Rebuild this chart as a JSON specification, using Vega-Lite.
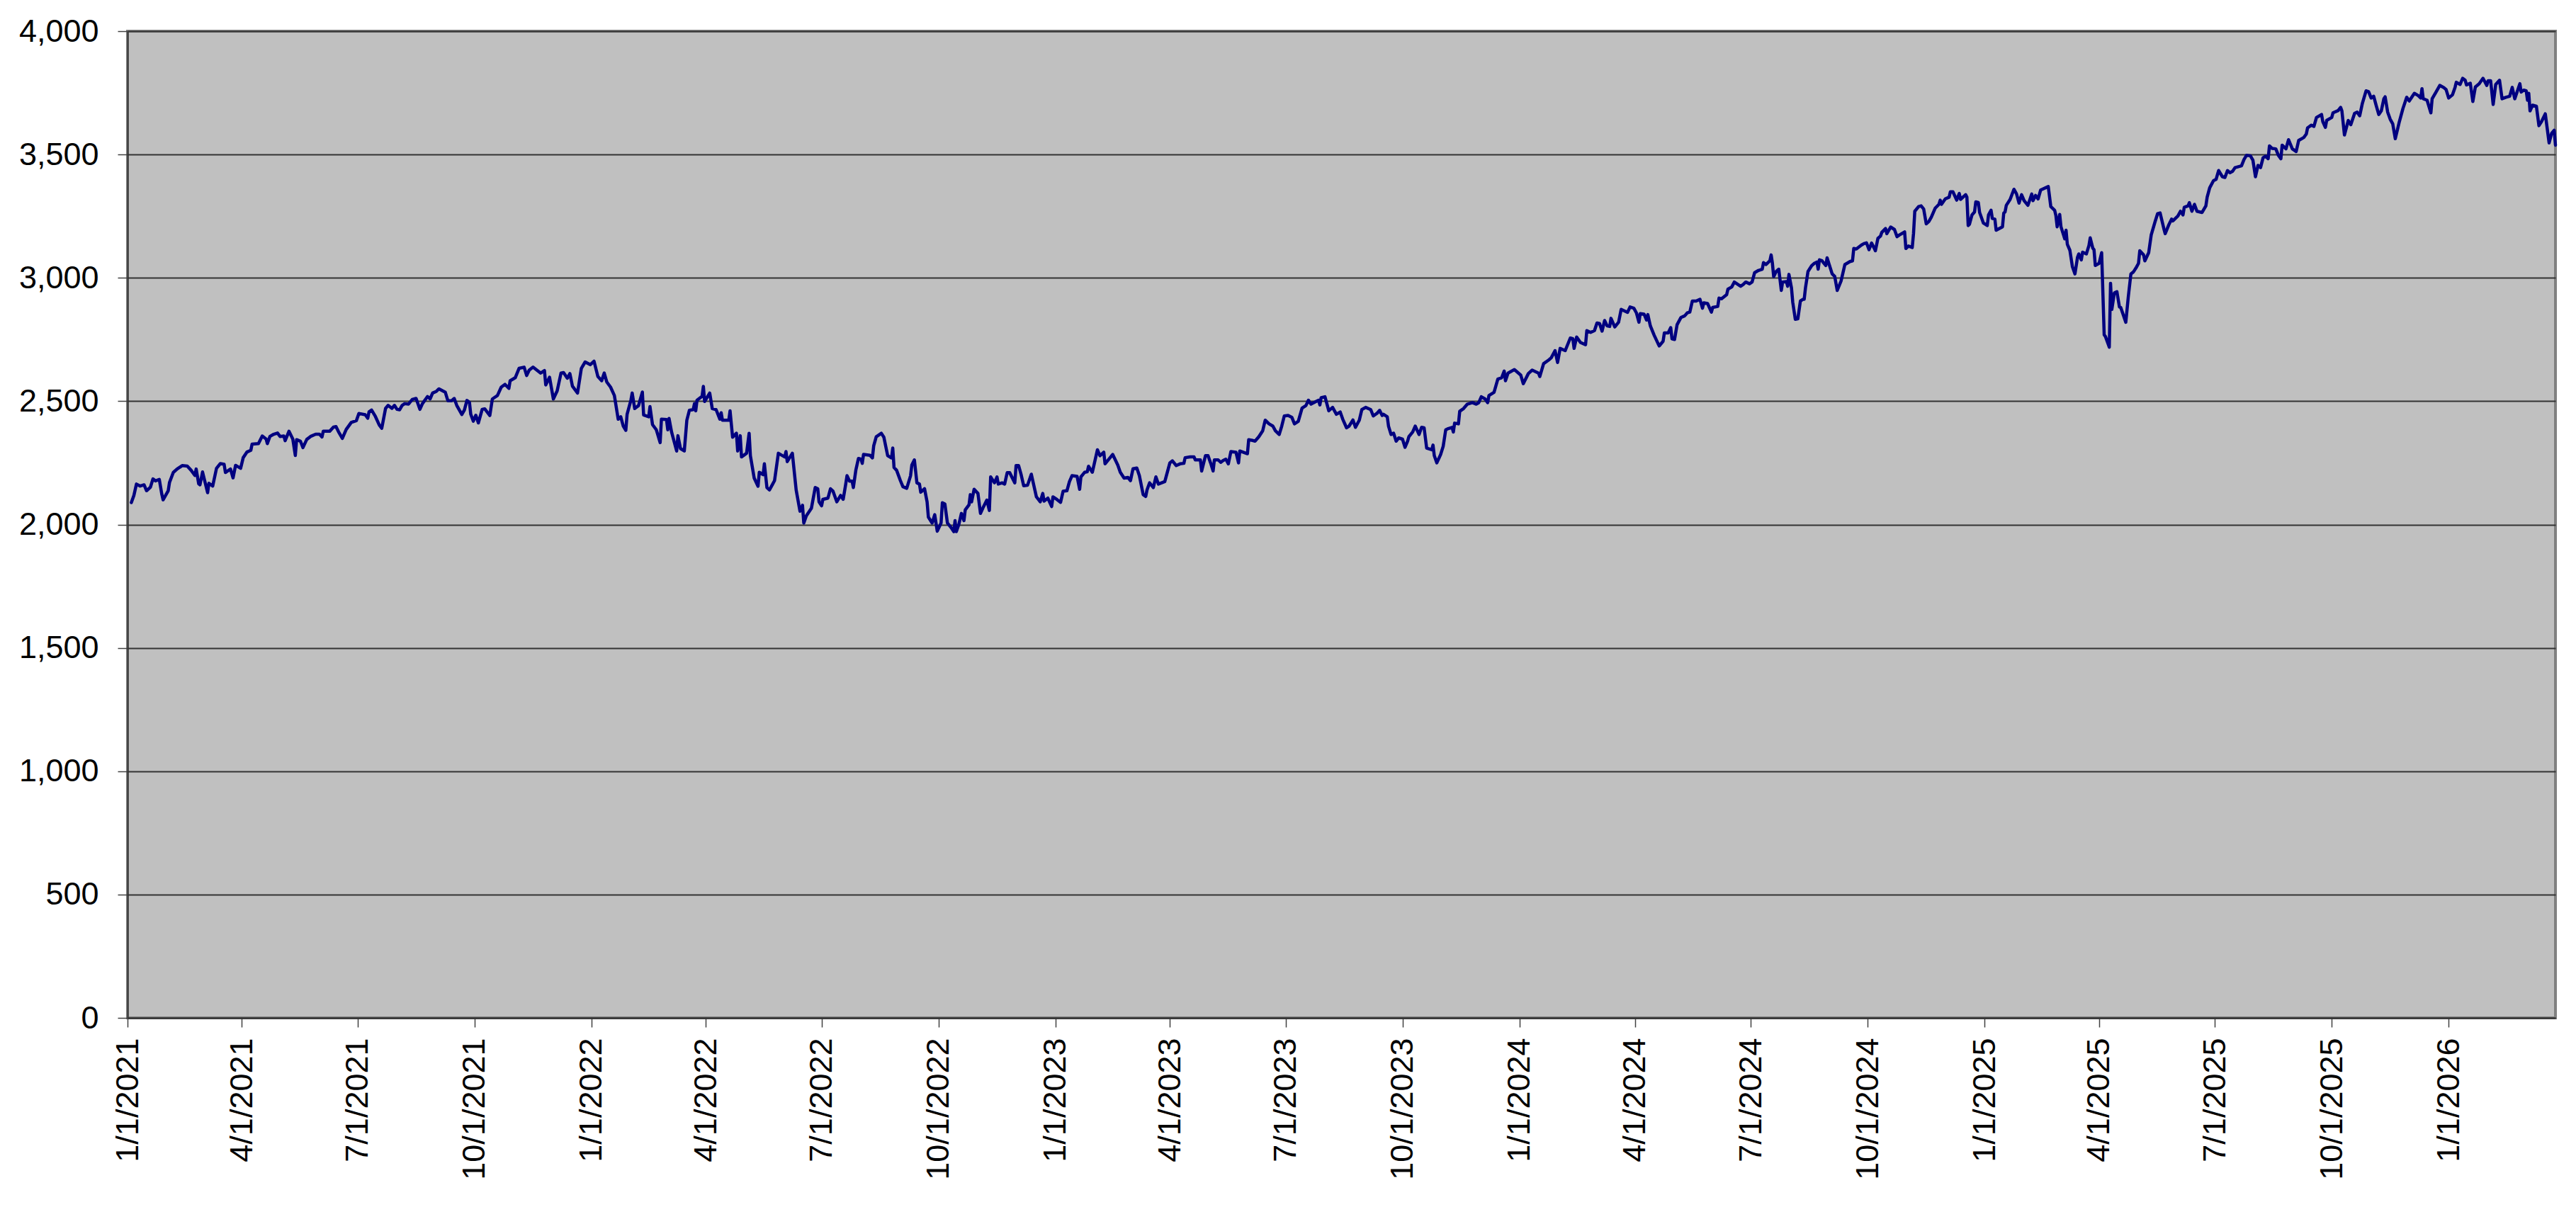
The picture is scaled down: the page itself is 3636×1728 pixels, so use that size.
{
"$schema": "https://vega.github.io/schema/vega-lite/v6.json",
"width": 3427, "height": 1393,
"autosize": {"type": "none"},
"padding": {"left": 180, "top": 44, "right": 29, "bottom": 291},
"background": "white",
"config": {
 "view": {"fill": "#C0C0C0", "stroke": "#808080", "strokeWidth": 4},
 "font": "Liberation Sans"
},
"data": {"values": [
{"date":"2021-01-04","value":2089},{"date":"2021-01-06","value":2118},{"date":"2021-01-08","value":2164},{"date":"2021-01-11","value":2156},{"date":"2021-01-14","value":2161},{"date":"2021-01-16","value":2137},{"date":"2021-01-19","value":2151},{"date":"2021-01-21","value":2185},{"date":"2021-01-23","value":2177},{"date":"2021-01-26","value":2183},{"date":"2021-01-28","value":2122},{"date":"2021-01-29","value":2100},{"date":"2021-02-02","value":2137},{"date":"2021-02-03","value":2170},{"date":"2021-02-06","value":2211},{"date":"2021-02-09","value":2225},{"date":"2021-02-13","value":2239},{"date":"2021-02-17","value":2237},{"date":"2021-02-20","value":2220},{"date":"2021-02-23","value":2199},{"date":"2021-02-24","value":2225},{"date":"2021-02-26","value":2165},{"date":"2021-02-27","value":2161},{"date":"2021-03-01","value":2213},{"date":"2021-03-05","value":2129},{"date":"2021-03-06","value":2167},{"date":"2021-03-09","value":2156},{"date":"2021-03-12","value":2228},{"date":"2021-03-15","value":2247},{"date":"2021-03-18","value":2244},{"date":"2021-03-19","value":2211},{"date":"2021-03-23","value":2225},{"date":"2021-03-25","value":2189},{"date":"2021-03-27","value":2240},{"date":"2021-03-31","value":2228},{"date":"2021-04-02","value":2271},{"date":"2021-04-05","value":2294},{"date":"2021-04-08","value":2301},{"date":"2021-04-09","value":2326},{"date":"2021-04-14","value":2328},{"date":"2021-04-17","value":2359},{"date":"2021-04-20","value":2347},{"date":"2021-04-21","value":2328},{"date":"2021-04-23","value":2357},{"date":"2021-04-26","value":2366},{"date":"2021-04-29","value":2371},{"date":"2021-05-01","value":2357},{"date":"2021-05-04","value":2359},{"date":"2021-05-05","value":2340},{"date":"2021-05-08","value":2378},{"date":"2021-05-11","value":2347},{"date":"2021-05-13","value":2280},{"date":"2021-05-14","value":2344},{"date":"2021-05-17","value":2338},{"date":"2021-05-19","value":2312},{"date":"2021-05-22","value":2345},{"date":"2021-05-25","value":2357},{"date":"2021-05-29","value":2366},{"date":"2021-06-01","value":2366},{"date":"2021-06-03","value":2355},{"date":"2021-06-04","value":2378},{"date":"2021-06-09","value":2378},{"date":"2021-06-12","value":2395},{"date":"2021-06-14","value":2397},{"date":"2021-06-16","value":2376},{"date":"2021-06-19","value":2349},{"date":"2021-06-22","value":2385},{"date":"2021-06-26","value":2414},{"date":"2021-06-30","value":2421},{"date":"2021-07-02","value":2450},{"date":"2021-07-07","value":2445},{"date":"2021-07-09","value":2431},{"date":"2021-07-10","value":2457},{"date":"2021-07-12","value":2464},{"date":"2021-07-15","value":2438},{"date":"2021-07-18","value":2404},{"date":"2021-07-20","value":2390},{"date":"2021-07-23","value":2471},{"date":"2021-07-25","value":2483},{"date":"2021-07-28","value":2471},{"date":"2021-07-30","value":2483},{"date":"2021-08-01","value":2467},{"date":"2021-08-03","value":2465},{"date":"2021-08-05","value":2483},{"date":"2021-08-07","value":2490},{"date":"2021-08-10","value":2488},{"date":"2021-08-13","value":2507},{"date":"2021-08-16","value":2511},{"date":"2021-08-19","value":2467},{"date":"2021-08-21","value":2490},{"date":"2021-08-25","value":2519},{"date":"2021-08-27","value":2509},{"date":"2021-08-29","value":2533},{"date":"2021-09-01","value":2540},{"date":"2021-09-03","value":2550},{"date":"2021-09-08","value":2536},{"date":"2021-09-10","value":2502},{"date":"2021-09-13","value":2502},{"date":"2021-09-15","value":2511},{"date":"2021-09-17","value":2483},{"date":"2021-09-21","value":2446},{"date":"2021-09-23","value":2464},{"date":"2021-09-25","value":2503},{"date":"2021-09-27","value":2495},{"date":"2021-09-28","value":2447},{"date":"2021-09-30","value":2419},{"date":"2021-10-02","value":2443},{"date":"2021-10-04","value":2412},{"date":"2021-10-07","value":2467},
{"date":"2021-10-09","value":2469},{"date":"2021-10-13","value":2442},{"date":"2021-10-15","value":2509},{"date":"2021-10-19","value":2523},{"date":"2021-10-22","value":2557},{"date":"2021-10-25","value":2568},{"date":"2021-10-28","value":2552},{"date":"2021-10-29","value":2583},{"date":"2021-11-02","value":2595},{"date":"2021-11-05","value":2633},{"date":"2021-11-09","value":2638},{"date":"2021-11-11","value":2604},{"date":"2021-11-13","value":2626},{"date":"2021-11-16","value":2638},{"date":"2021-11-19","value":2626},{"date":"2021-11-22","value":2614},{"date":"2021-11-25","value":2624},{"date":"2021-11-26","value":2566},{"date":"2021-11-29","value":2597},{"date":"2021-12-02","value":2509},{"date":"2021-12-05","value":2542},{"date":"2021-12-08","value":2614},{"date":"2021-12-10","value":2616},{"date":"2021-12-13","value":2593},{"date":"2021-12-15","value":2612},{"date":"2021-12-17","value":2561},{"date":"2021-12-21","value":2533},{"date":"2021-12-24","value":2633},{"date":"2021-12-27","value":2659},{"date":"2021-12-31","value":2648},{"date":"2022-01-03","value":2662},{"date":"2022-01-06","value":2600},{"date":"2022-01-09","value":2583},{"date":"2022-01-11","value":2614},{"date":"2022-01-13","value":2578},{"date":"2022-01-16","value":2557},{"date":"2022-01-19","value":2523},{"date":"2022-01-22","value":2427},{"date":"2022-01-24","value":2437},{"date":"2022-01-26","value":2399},{"date":"2022-01-28","value":2382},{"date":"2022-01-29","value":2447},{"date":"2022-02-01","value":2504},{"date":"2022-02-02","value":2533},{"date":"2022-02-04","value":2470},{"date":"2022-02-07","value":2482},{"date":"2022-02-10","value":2537},{"date":"2022-02-11","value":2444},{"date":"2022-02-15","value":2437},{"date":"2022-02-16","value":2478},{"date":"2022-02-18","value":2405},{"date":"2022-02-21","value":2384},{"date":"2022-02-24","value":2332},{"date":"2022-02-25","value":2427},{"date":"2022-03-01","value":2426},{"date":"2022-03-02","value":2384},{"date":"2022-03-03","value":2430},{"date":"2022-03-05","value":2375},{"date":"2022-03-09","value":2298},{"date":"2022-03-10","value":2360},{"date":"2022-03-12","value":2308},{"date":"2022-03-15","value":2298},{"date":"2022-03-17","value":2423},{"date":"2022-03-19","value":2463},{"date":"2022-03-22","value":2466},{"date":"2022-03-23","value":2490},{"date":"2022-03-24","value":2461},{"date":"2022-03-25","value":2504},{"date":"2022-03-29","value":2520},{"date":"2022-03-30","value":2560},{"date":"2022-03-31","value":2499},{"date":"2022-04-04","value":2533},{"date":"2022-04-06","value":2470},{"date":"2022-04-09","value":2466},{"date":"2022-04-12","value":2427},{"date":"2022-04-13","value":2453},{"date":"2022-04-14","value":2423},{"date":"2022-04-19","value":2423},{"date":"2022-04-20","value":2461},{"date":"2022-04-22","value":2354},{"date":"2022-04-25","value":2370},{"date":"2022-04-26","value":2298},{"date":"2022-04-28","value":2360},{"date":"2022-04-29","value":2274},{"date":"2022-05-03","value":2289},{"date":"2022-05-05","value":2370},{"date":"2022-05-06","value":2279},{"date":"2022-05-09","value":2188},{"date":"2022-05-12","value":2155},{"date":"2022-05-13","value":2212},{"date":"2022-05-16","value":2202},{"date":"2022-05-17","value":2246},{"date":"2022-05-19","value":2150},{"date":"2022-05-21","value":2140},{"date":"2022-05-23","value":2159},{"date":"2022-05-25","value":2178},{"date":"2022-05-28","value":2289},{"date":"2022-06-02","value":2274},{"date":"2022-06-03","value":2296},{"date":"2022-06-04","value":2255},{"date":"2022-06-08","value":2289},{"date":"2022-06-11","value":2140},{"date":"2022-06-14","value":2054},{"date":"2022-06-16","value":2078},{"date":"2022-06-17","value":2006},{"date":"2022-06-19","value":2035},{"date":"2022-06-23","value":2066},{"date":"2022-06-26","value":2150},{"date":"2022-06-28","value":2145},{"date":"2022-06-29","value":2092},{"date":"2022-07-01","value":2076},{"date":"2022-07-02","value":2102},{"date":"2022-07-06","value":2107},{"date":"2022-07-08","value":2145},{"date":"2022-07-10","value":2135},{"date":"2022-07-13","value":2092},
{"date":"2022-07-16","value":2118},{"date":"2022-07-18","value":2102},{"date":"2022-07-20","value":2164},{"date":"2022-07-21","value":2198},{"date":"2022-07-23","value":2176},{"date":"2022-07-25","value":2176},{"date":"2022-07-26","value":2150},{"date":"2022-07-28","value":2222},{"date":"2022-07-30","value":2268},{"date":"2022-08-01","value":2265},{"date":"2022-08-02","value":2248},{"date":"2022-08-03","value":2284},{"date":"2022-08-08","value":2281},{"date":"2022-08-10","value":2270},{"date":"2022-08-11","value":2319},{"date":"2022-08-13","value":2356},{"date":"2022-08-15","value":2363},{"date":"2022-08-17","value":2370},{"date":"2022-08-19","value":2354},{"date":"2022-08-22","value":2279},{"date":"2022-08-25","value":2270},{"date":"2022-08-26","value":2310},{"date":"2022-08-27","value":2231},{"date":"2022-08-29","value":2220},{"date":"2022-09-01","value":2178},{"date":"2022-09-03","value":2153},{"date":"2022-09-06","value":2147},{"date":"2022-09-09","value":2198},{"date":"2022-09-10","value":2241},{"date":"2022-09-12","value":2262},{"date":"2022-09-14","value":2169},{"date":"2022-09-16","value":2164},{"date":"2022-09-17","value":2131},{"date":"2022-09-20","value":2145},{"date":"2022-09-22","value":2092},{"date":"2022-09-23","value":2030},{"date":"2022-09-26","value":2006},{"date":"2022-09-28","value":2040},{"date":"2022-09-30","value":1973},{"date":"2022-10-03","value":2006},{"date":"2022-10-04","value":2088},{"date":"2022-10-06","value":2083},{"date":"2022-10-08","value":2006},{"date":"2022-10-11","value":1987},{"date":"2022-10-13","value":1971},{"date":"2022-10-14","value":2016},{"date":"2022-10-15","value":1971},{"date":"2022-10-17","value":2001},{"date":"2022-10-19","value":2045},{"date":"2022-10-21","value":2016},{"date":"2022-10-22","value":2059},{"date":"2022-10-25","value":2080},{"date":"2022-10-26","value":2121},{"date":"2022-10-27","value":2092},{"date":"2022-10-29","value":2143},{"date":"2022-11-01","value":2126},{"date":"2022-11-03","value":2045},{"date":"2022-11-05","value":2068},{"date":"2022-11-08","value":2099},{"date":"2022-11-10","value":2057},{"date":"2022-11-11","value":2193},{"date":"2022-11-14","value":2169},{"date":"2022-11-16","value":2193},{"date":"2022-11-17","value":2164},{"date":"2022-11-20","value":2169},{"date":"2022-11-22","value":2164},{"date":"2022-11-24","value":2210},{"date":"2022-11-26","value":2210},{"date":"2022-11-30","value":2169},{"date":"2022-12-01","value":2239},{"date":"2022-12-03","value":2239},{"date":"2022-12-05","value":2202},{"date":"2022-12-07","value":2157},{"date":"2022-12-10","value":2159},{"date":"2022-12-13","value":2204},{"date":"2022-12-17","value":2112},{"date":"2022-12-20","value":2092},{"date":"2022-12-22","value":2126},{"date":"2022-12-23","value":2095},{"date":"2022-12-26","value":2107},{"date":"2022-12-29","value":2073},{"date":"2022-12-30","value":2112},{"date":"2023-01-02","value":2102},{"date":"2023-01-05","value":2090},{"date":"2023-01-07","value":2135},{"date":"2023-01-10","value":2137},{"date":"2023-01-12","value":2174},{"date":"2023-01-14","value":2198},{"date":"2023-01-18","value":2195},{"date":"2023-01-20","value":2143},{"date":"2023-01-21","value":2193},{"date":"2023-01-24","value":2212},{"date":"2023-01-26","value":2214},{"date":"2023-01-27","value":2236},{"date":"2023-01-30","value":2212},{"date":"2023-02-03","value":2303},{"date":"2023-02-05","value":2279},{"date":"2023-02-08","value":2293},{"date":"2023-02-09","value":2246},{"date":"2023-02-15","value":2284},{"date":"2023-02-19","value":2241},{"date":"2023-02-21","value":2212},{"date":"2023-02-24","value":2188},{"date":"2023-02-27","value":2191},{"date":"2023-03-01","value":2178},{"date":"2023-03-03","value":2226},{"date":"2023-03-06","value":2229},{"date":"2023-03-08","value":2198},{"date":"2023-03-11","value":2121},{"date":"2023-03-13","value":2114},{"date":"2023-03-14","value":2140},{"date":"2023-03-16","value":2169},{"date":"2023-03-19","value":2150},{"date":"2023-03-21","value":2193},{"date":"2023-03-23","value":2164},{"date":"2023-03-28","value":2174},{"date":"2023-04-01","value":2250},{"date":"2023-04-03","value":2258},{"date":"2023-04-06","value":2239},{"date":"2023-04-09","value":2246},{"date":"2023-04-12","value":2248},{"date":"2023-04-13","value":2271},{"date":"2023-04-17","value":2274},
{"date":"2023-04-20","value":2274},{"date":"2023-04-21","value":2262},{"date":"2023-04-25","value":2262},{"date":"2023-04-26","value":2217},{"date":"2023-04-29","value":2279},{"date":"2023-05-01","value":2279},{"date":"2023-05-03","value":2250},{"date":"2023-05-05","value":2217},{"date":"2023-05-06","value":2262},{"date":"2023-05-09","value":2262},{"date":"2023-05-11","value":2252},{"date":"2023-05-13","value":2260},{"date":"2023-05-15","value":2265},{"date":"2023-05-17","value":2246},{"date":"2023-05-19","value":2296},{"date":"2023-05-23","value":2293},{"date":"2023-05-25","value":2250},{"date":"2023-05-26","value":2298},{"date":"2023-06-01","value":2287},{"date":"2023-06-02","value":2344},{"date":"2023-06-05","value":2341},{"date":"2023-06-07","value":2338},{"date":"2023-06-10","value":2356},{"date":"2023-06-13","value":2380},{"date":"2023-06-15","value":2423},{"date":"2023-06-18","value":2408},{"date":"2023-06-21","value":2399},{"date":"2023-06-23","value":2380},{"date":"2023-06-26","value":2365},{"date":"2023-06-28","value":2399},{"date":"2023-06-30","value":2440},{"date":"2023-07-03","value":2442},{"date":"2023-07-06","value":2434},{"date":"2023-07-08","value":2408},{"date":"2023-07-11","value":2418},{"date":"2023-07-14","value":2472},{"date":"2023-07-17","value":2482},{"date":"2023-07-19","value":2504},{"date":"2023-07-21","value":2488},{"date":"2023-07-25","value":2499},{"date":"2023-07-27","value":2504},{"date":"2023-07-28","value":2485},{"date":"2023-07-29","value":2514},{"date":"2023-08-01","value":2518},{"date":"2023-08-04","value":2461},{"date":"2023-08-07","value":2475},{"date":"2023-08-10","value":2447},{"date":"2023-08-13","value":2456},{"date":"2023-08-15","value":2427},{"date":"2023-08-18","value":2392},{"date":"2023-08-20","value":2399},{"date":"2023-08-23","value":2424},{"date":"2023-08-25","value":2394},{"date":"2023-08-28","value":2423},{"date":"2023-08-30","value":2466},{"date":"2023-09-02","value":2475},{"date":"2023-09-06","value":2466},{"date":"2023-09-08","value":2440},{"date":"2023-09-11","value":2451},{"date":"2023-09-13","value":2463},{"date":"2023-09-15","value":2442},{"date":"2023-09-16","value":2447},{"date":"2023-09-19","value":2437},{"date":"2023-09-20","value":2399},{"date":"2023-09-22","value":2365},{"date":"2023-09-24","value":2370},{"date":"2023-09-26","value":2338},{"date":"2023-09-28","value":2351},{"date":"2023-10-01","value":2346},{"date":"2023-10-03","value":2313},{"date":"2023-10-05","value":2338},{"date":"2023-10-06","value":2356},{"date":"2023-10-09","value":2375},{"date":"2023-10-11","value":2399},{"date":"2023-10-14","value":2365},{"date":"2023-10-16","value":2394},{"date":"2023-10-18","value":2392},{"date":"2023-10-20","value":2310},{"date":"2023-10-24","value":2303},{"date":"2023-10-25","value":2322},{"date":"2023-10-26","value":2279},{"date":"2023-10-28","value":2250},{"date":"2023-10-31","value":2284},{"date":"2023-11-02","value":2317},{"date":"2023-11-04","value":2384},{"date":"2023-11-06","value":2389},{"date":"2023-11-09","value":2394},{"date":"2023-11-10","value":2375},{"date":"2023-11-11","value":2411},{"date":"2023-11-14","value":2408},{"date":"2023-11-15","value":2459},{"date":"2023-11-18","value":2470},{"date":"2023-11-21","value":2488},{"date":"2023-11-25","value":2494},{"date":"2023-11-28","value":2488},{"date":"2023-11-30","value":2494},{"date":"2023-12-02","value":2518},{"date":"2023-12-05","value":2509},{"date":"2023-12-07","value":2494},{"date":"2023-12-08","value":2523},{"date":"2023-12-12","value":2536},{"date":"2023-12-15","value":2590},{"date":"2023-12-18","value":2595},{"date":"2023-12-20","value":2622},{"date":"2023-12-21","value":2583},{"date":"2023-12-23","value":2614},{"date":"2023-12-28","value":2628},{"date":"2024-01-02","value":2606},{"date":"2024-01-04","value":2571},{"date":"2024-01-08","value":2612},{"date":"2024-01-11","value":2626},{"date":"2024-01-16","value":2614},{"date":"2024-01-17","value":2600},{"date":"2024-01-20","value":2652},
{"date":"2024-01-24","value":2667},{"date":"2024-01-26","value":2676},{"date":"2024-01-29","value":2705},{"date":"2024-01-31","value":2657},{"date":"2024-02-02","value":2714},{"date":"2024-02-06","value":2705},{"date":"2024-02-10","value":2756},{"date":"2024-02-12","value":2753},{"date":"2024-02-13","value":2714},{"date":"2024-02-15","value":2760},{"date":"2024-02-18","value":2738},{"date":"2024-02-22","value":2729},{"date":"2024-02-23","value":2786},{"date":"2024-02-26","value":2779},{"date":"2024-02-29","value":2786},{"date":"2024-03-02","value":2817},{"date":"2024-03-04","value":2815},{"date":"2024-03-06","value":2784},{"date":"2024-03-08","value":2827},{"date":"2024-03-10","value":2805},{"date":"2024-03-12","value":2803},{"date":"2024-03-13","value":2836},{"date":"2024-03-16","value":2801},{"date":"2024-03-19","value":2820},{"date":"2024-03-21","value":2872},{"date":"2024-03-26","value":2860},{"date":"2024-03-28","value":2882},{"date":"2024-03-31","value":2877},{"date":"2024-04-02","value":2858},{"date":"2024-04-04","value":2820},{"date":"2024-04-05","value":2855},{"date":"2024-04-08","value":2853},{"date":"2024-04-10","value":2829},{"date":"2024-04-11","value":2851},{"date":"2024-04-13","value":2805},{"date":"2024-04-16","value":2767},{"date":"2024-04-19","value":2734},{"date":"2024-04-20","value":2724},{"date":"2024-04-23","value":2743},{"date":"2024-04-24","value":2777},{"date":"2024-04-27","value":2777},{"date":"2024-04-29","value":2798},{"date":"2024-04-30","value":2753},{"date":"2024-05-02","value":2750},{"date":"2024-05-04","value":2810},{"date":"2024-05-07","value":2839},{"date":"2024-05-10","value":2846},{"date":"2024-05-12","value":2858},{"date":"2024-05-14","value":2861},{"date":"2024-05-16","value":2906},{"date":"2024-05-19","value":2906},{"date":"2024-05-22","value":2913},{"date":"2024-05-24","value":2877},{"date":"2024-05-25","value":2899},{"date":"2024-05-28","value":2896},{"date":"2024-05-31","value":2861},{"date":"2024-06-01","value":2880},{"date":"2024-06-05","value":2884},{"date":"2024-06-06","value":2918},{"date":"2024-06-08","value":2915},{"date":"2024-06-12","value":2932},{"date":"2024-06-13","value":2954},{"date":"2024-06-16","value":2963},{"date":"2024-06-18","value":2983},{"date":"2024-06-23","value":2966},{"date":"2024-06-25","value":2973},{"date":"2024-06-27","value":2983},{"date":"2024-06-30","value":2976},{"date":"2024-07-02","value":2983},{"date":"2024-07-04","value":3021},{"date":"2024-07-07","value":3030},{"date":"2024-07-10","value":3035},{"date":"2024-07-11","value":3062},{"date":"2024-07-13","value":3054},{"date":"2024-07-16","value":3069},{"date":"2024-07-17","value":3093},{"date":"2024-07-18","value":3059},{"date":"2024-07-19","value":3005},{"date":"2024-07-21","value":3026},{"date":"2024-07-23","value":3035},{"date":"2024-07-25","value":2949},{"date":"2024-07-26","value":2983},{"date":"2024-07-29","value":2985},{"date":"2024-07-30","value":2966},{"date":"2024-07-31","value":3014},{"date":"2024-08-02","value":2959},{"date":"2024-08-03","value":2901},{"date":"2024-08-05","value":2832},{"date":"2024-08-07","value":2834},{"date":"2024-08-09","value":2906},{"date":"2024-08-11","value":2913},{"date":"2024-08-12","value":2913},{"date":"2024-08-13","value":2959},{"date":"2024-08-15","value":3026},{"date":"2024-08-18","value":3050},{"date":"2024-08-20","value":3059},{"date":"2024-08-22","value":3064},{"date":"2024-08-23","value":3035},{"date":"2024-08-24","value":3073},{"date":"2024-08-26","value":3069},{"date":"2024-08-29","value":3050},{"date":"2024-08-30","value":3081},{"date":"2024-09-03","value":3016},{"date":"2024-09-05","value":3006},{"date":"2024-09-07","value":2949},{"date":"2024-09-10","value":2987},{"date":"2024-09-13","value":3054},{"date":"2024-09-17","value":3066},{"date":"2024-09-19","value":3069},{"date":"2024-09-20","value":3119},{"date":"2024-09-22","value":3117},{"date":"2024-09-26","value":3133},{"date":"2024-09-28","value":3139},{"date":"2024-09-30","value":3142},{"date":"2024-10-02","value":3114},{"date":"2024-10-04","value":3141},{"date":"2024-10-06","value":3121},{"date":"2024-10-07","value":3110},{"date":"2024-10-09","value":3160},{"date":"2024-10-11","value":3169},{"date":"2024-10-12","value":3184},{"date":"2024-10-15","value":3200},{"date":"2024-10-16","value":3179},{"date":"2024-10-19","value":3206},{"date":"2024-10-22","value":3196},{"date":"2024-10-24","value":3167},{"date":"2024-10-26","value":3174},
{"date":"2024-10-30","value":3186},{"date":"2024-10-31","value":3119},{"date":"2024-11-02","value":3129},{"date":"2024-11-05","value":3123},{"date":"2024-11-06","value":3179},{"date":"2024-11-07","value":3270},{"date":"2024-11-10","value":3289},{"date":"2024-11-12","value":3292},{"date":"2024-11-14","value":3279},{"date":"2024-11-16","value":3219},{"date":"2024-11-18","value":3228},{"date":"2024-11-20","value":3246},{"date":"2024-11-23","value":3282},{"date":"2024-11-26","value":3298},{"date":"2024-11-27","value":3315},{"date":"2024-11-28","value":3298},{"date":"2024-12-01","value":3320},{"date":"2024-12-04","value":3327},{"date":"2024-12-05","value":3349},{"date":"2024-12-07","value":3349},{"date":"2024-12-10","value":3315},{"date":"2024-12-12","value":3342},{"date":"2024-12-13","value":3318},{"date":"2024-12-17","value":3337},{"date":"2024-12-18","value":3327},{"date":"2024-12-19","value":3212},{"date":"2024-12-20","value":3217},{"date":"2024-12-22","value":3255},{"date":"2024-12-24","value":3267},{"date":"2024-12-25","value":3308},{"date":"2024-12-27","value":3305},{"date":"2024-12-28","value":3265},{"date":"2024-12-31","value":3222},{"date":"2025-01-03","value":3212},{"date":"2025-01-04","value":3255},{"date":"2025-01-06","value":3274},{"date":"2025-01-07","value":3241},{"date":"2025-01-09","value":3238},{"date":"2025-01-10","value":3193},{"date":"2025-01-15","value":3207},{"date":"2025-01-16","value":3263},{"date":"2025-01-17","value":3267},{"date":"2025-01-18","value":3294},{"date":"2025-01-21","value":3318},{"date":"2025-01-24","value":3359},{"date":"2025-01-26","value":3341},{"date":"2025-01-28","value":3303},{"date":"2025-01-30","value":3337},{"date":"2025-02-01","value":3313},{"date":"2025-02-04","value":3294},{"date":"2025-02-07","value":3340},{"date":"2025-02-08","value":3313},{"date":"2025-02-10","value":3334},{"date":"2025-02-12","value":3320},{"date":"2025-02-14","value":3356},{"date":"2025-02-20","value":3370},{"date":"2025-02-22","value":3289},{"date":"2025-02-25","value":3274},{"date":"2025-02-26","value":3253},{"date":"2025-02-27","value":3207},{"date":"2025-03-01","value":3257},{"date":"2025-03-02","value":3207},{"date":"2025-03-05","value":3158},{"date":"2025-03-06","value":3193},{"date":"2025-03-07","value":3136},{"date":"2025-03-09","value":3112},{"date":"2025-03-11","value":3045},{"date":"2025-03-13","value":3016},{"date":"2025-03-15","value":3083},{"date":"2025-03-16","value":3097},{"date":"2025-03-18","value":3073},{"date":"2025-03-19","value":3104},{"date":"2025-03-22","value":3097},{"date":"2025-03-24","value":3131},{"date":"2025-03-25","value":3162},{"date":"2025-03-27","value":3121},{"date":"2025-03-28","value":3114},{"date":"2025-03-29","value":3050},{"date":"2025-04-01","value":3059},{"date":"2025-04-03","value":3102},{"date":"2025-04-05","value":2769},{"date":"2025-04-06","value":2762},{"date":"2025-04-09","value":2719},{"date":"2025-04-10","value":2978},{"date":"2025-04-11","value":2872},{"date":"2025-04-13","value":2939},{"date":"2025-04-15","value":2944},{"date":"2025-04-17","value":2882},{"date":"2025-04-18","value":2880},{"date":"2025-04-22","value":2820},{"date":"2025-04-24","value":2925},{"date":"2025-04-26","value":3016},{"date":"2025-04-28","value":3024},{"date":"2025-04-30","value":3040},{"date":"2025-05-02","value":3059},{"date":"2025-05-03","value":3110},{"date":"2025-05-06","value":3093},{"date":"2025-05-07","value":3069},{"date":"2025-05-10","value":3102},{"date":"2025-05-12","value":3174},{"date":"2025-05-15","value":3227},{"date":"2025-05-17","value":3260},{"date":"2025-05-19","value":3263},{"date":"2025-05-22","value":3198},{"date":"2025-05-23","value":3179},{"date":"2025-05-26","value":3217},{"date":"2025-05-28","value":3238},{"date":"2025-05-29","value":3231},{"date":"2025-06-02","value":3251},{"date":"2025-06-04","value":3270},{"date":"2025-06-06","value":3255},{"date":"2025-06-07","value":3286},{"date":"2025-06-10","value":3292},{"date":"2025-06-11","value":3305},{"date":"2025-06-13","value":3270},{"date":"2025-06-15","value":3298},{"date":"2025-06-17","value":3270},{"date":"2025-06-21","value":3265},{"date":"2025-06-24","value":3292},{"date":"2025-06-25","value":3327},{"date":"2025-06-27","value":3365},{"date":"2025-06-30","value":3394},{"date":"2025-07-02","value":3399},{"date":"2025-07-04","value":3435},{"date":"2025-07-07","value":3410},{"date":"2025-07-09","value":3407},{"date":"2025-07-11","value":3435},{"date":"2025-07-13","value":3426},{"date":"2025-07-15","value":3432},
{"date":"2025-07-17","value":3447},{"date":"2025-07-22","value":3454},{"date":"2025-07-24","value":3480},{"date":"2025-07-26","value":3497},{"date":"2025-07-29","value":3495},{"date":"2025-07-31","value":3477},{"date":"2025-08-02","value":3410},{"date":"2025-08-04","value":3456},{"date":"2025-08-06","value":3447},{"date":"2025-08-08","value":3487},{"date":"2025-08-10","value":3493},{"date":"2025-08-12","value":3483},{"date":"2025-08-13","value":3535},{"date":"2025-08-15","value":3525},{"date":"2025-08-18","value":3523},{"date":"2025-08-20","value":3497},{"date":"2025-08-22","value":3483},{"date":"2025-08-23","value":3538},{"date":"2025-08-26","value":3523},{"date":"2025-08-28","value":3560},{"date":"2025-08-31","value":3523},{"date":"2025-09-03","value":3512},{"date":"2025-09-05","value":3557},{"date":"2025-09-09","value":3569},{"date":"2025-09-11","value":3583},{"date":"2025-09-12","value":3608},{"date":"2025-09-15","value":3619},{"date":"2025-09-17","value":3614},{"date":"2025-09-19","value":3650},{"date":"2025-09-23","value":3662},{"date":"2025-09-24","value":3633},{"date":"2025-09-26","value":3610},{"date":"2025-09-27","value":3638},{"date":"2025-10-01","value":3650},{"date":"2025-10-02","value":3669},{"date":"2025-10-06","value":3678},{"date":"2025-10-08","value":3691},{"date":"2025-10-09","value":3677},{"date":"2025-10-11","value":3579},{"date":"2025-10-14","value":3638},{"date":"2025-10-16","value":3621},{"date":"2025-10-19","value":3667},{"date":"2025-10-21","value":3672},{"date":"2025-10-23","value":3657},{"date":"2025-10-25","value":3705},{"date":"2025-10-28","value":3758},{"date":"2025-10-30","value":3755},{"date":"2025-11-01","value":3729},{"date":"2025-11-03","value":3736},{"date":"2025-11-05","value":3698},{"date":"2025-11-07","value":3662},{"date":"2025-11-09","value":3677},{"date":"2025-11-11","value":3726},{"date":"2025-11-12","value":3734},{"date":"2025-11-14","value":3672},{"date":"2025-11-16","value":3643},{"date":"2025-11-18","value":3624},{"date":"2025-11-20","value":3564},{"date":"2025-11-23","value":3629},{"date":"2025-11-26","value":3686},{"date":"2025-11-29","value":3732},{"date":"2025-12-01","value":3717},{"date":"2025-12-05","value":3748},{"date":"2025-12-08","value":3739},{"date":"2025-12-10","value":3729},{"date":"2025-12-11","value":3767},{"date":"2025-12-12","value":3726},{"date":"2025-12-15","value":3720},{"date":"2025-12-18","value":3669},{"date":"2025-12-19","value":3726},{"date":"2025-12-22","value":3753},{"date":"2025-12-25","value":3780},{"date":"2025-12-28","value":3772},{"date":"2025-12-30","value":3763},{"date":"2026-01-01","value":3729},{"date":"2026-01-04","value":3742},{"date":"2026-01-06","value":3772},{"date":"2026-01-07","value":3793},{"date":"2026-01-10","value":3784},{"date":"2026-01-12","value":3809},{"date":"2026-01-14","value":3801},{"date":"2026-01-15","value":3782},{"date":"2026-01-18","value":3789},{"date":"2026-01-20","value":3715},{"date":"2026-01-22","value":3774},{"date":"2026-01-25","value":3787},{"date":"2026-01-28","value":3809},{"date":"2026-01-31","value":3780},{"date":"2026-02-01","value":3799},{"date":"2026-02-03","value":3799},{"date":"2026-02-05","value":3703},{"date":"2026-02-07","value":3784},{"date":"2026-02-10","value":3801},{"date":"2026-02-12","value":3726},{"date":"2026-02-15","value":3732},{"date":"2026-02-18","value":3736},{"date":"2026-02-20","value":3772},{"date":"2026-02-22","value":3726},{"date":"2026-02-26","value":3787},{"date":"2026-02-27","value":3753},{"date":"2026-03-01","value":3761},{"date":"2026-03-03","value":3758},{"date":"2026-03-04","value":3720},{"date":"2026-03-05","value":3748},{"date":"2026-03-06","value":3677},{"date":"2026-03-08","value":3700},{"date":"2026-03-11","value":3696},{"date":"2026-03-13","value":3617},{"date":"2026-03-15","value":3633},{"date":"2026-03-18","value":3665},{"date":"2026-03-21","value":3547},{"date":"2026-03-23","value":3586},{"date":"2026-03-25","value":3598},{"date":"2026-03-26","value":3538}
]},
"mark": {"type": "line", "color": "#000080", "strokeWidth": 4.5, "strokeJoin": "round", "strokeCap": "round"},
"encoding": {
 "x": {"field": "date", "type": "temporal",
  "scale": {"type": "utc", "nice": false, "domain": [{"year": 2021, "month": 1, "date": 1, "utc": true}, {"year": 2026, "month": 3, "date": 26, "utc": true}]},
  "axis": {"title": null, "grid": false, "format": "%-m/%-d/%Y", "labelAngle": -90, "labelFont": "Liberation Sans", "labelFontSize": 45, "labelColor": "#000000", "labelPadding": 15, "labelFlush": false, "labelOverlap": false, "labelBound": false, "labelLimit": 0,
   "tickSize": 13, "tickColor": "#404040", "tickWidth": 1.5, "domainColor": "#333333", "domainWidth": 2,
   "values": [
    {"year": 2021, "month": 1, "date": 1, "utc": true}, {"year": 2021, "month": 4, "date": 1, "utc": true}, {"year": 2021, "month": 7, "date": 1, "utc": true}, {"year": 2021, "month": 10, "date": 1, "utc": true},
    {"year": 2022, "month": 1, "date": 1, "utc": true}, {"year": 2022, "month": 4, "date": 1, "utc": true}, {"year": 2022, "month": 7, "date": 1, "utc": true}, {"year": 2022, "month": 10, "date": 1, "utc": true},
    {"year": 2023, "month": 1, "date": 1, "utc": true}, {"year": 2023, "month": 4, "date": 1, "utc": true}, {"year": 2023, "month": 7, "date": 1, "utc": true}, {"year": 2023, "month": 10, "date": 1, "utc": true},
    {"year": 2024, "month": 1, "date": 1, "utc": true}, {"year": 2024, "month": 4, "date": 1, "utc": true}, {"year": 2024, "month": 7, "date": 1, "utc": true}, {"year": 2024, "month": 10, "date": 1, "utc": true},
    {"year": 2025, "month": 1, "date": 1, "utc": true}, {"year": 2025, "month": 4, "date": 1, "utc": true}, {"year": 2025, "month": 7, "date": 1, "utc": true}, {"year": 2025, "month": 10, "date": 1, "utc": true},
    {"year": 2026, "month": 1, "date": 1, "utc": true}
   ]}},
 "y": {"field": "value", "type": "quantitative",
  "scale": {"domain": [0, 4000], "nice": false, "zero": true},
  "axis": {"title": null, "values": [0, 500, 1000, 1500, 2000, 2500, 3000, 3500, 4000], "format": ",d", "labelFont": "Liberation Sans", "labelFontSize": 45, "labelColor": "#000000", "labelPadding": 27,
   "tickSize": 14, "tickColor": "#404040", "tickWidth": 1.5, "domainColor": "#333333", "domainWidth": 2,
   "grid": true, "gridColor": "#333333", "gridWidth": 2}}
}
}
